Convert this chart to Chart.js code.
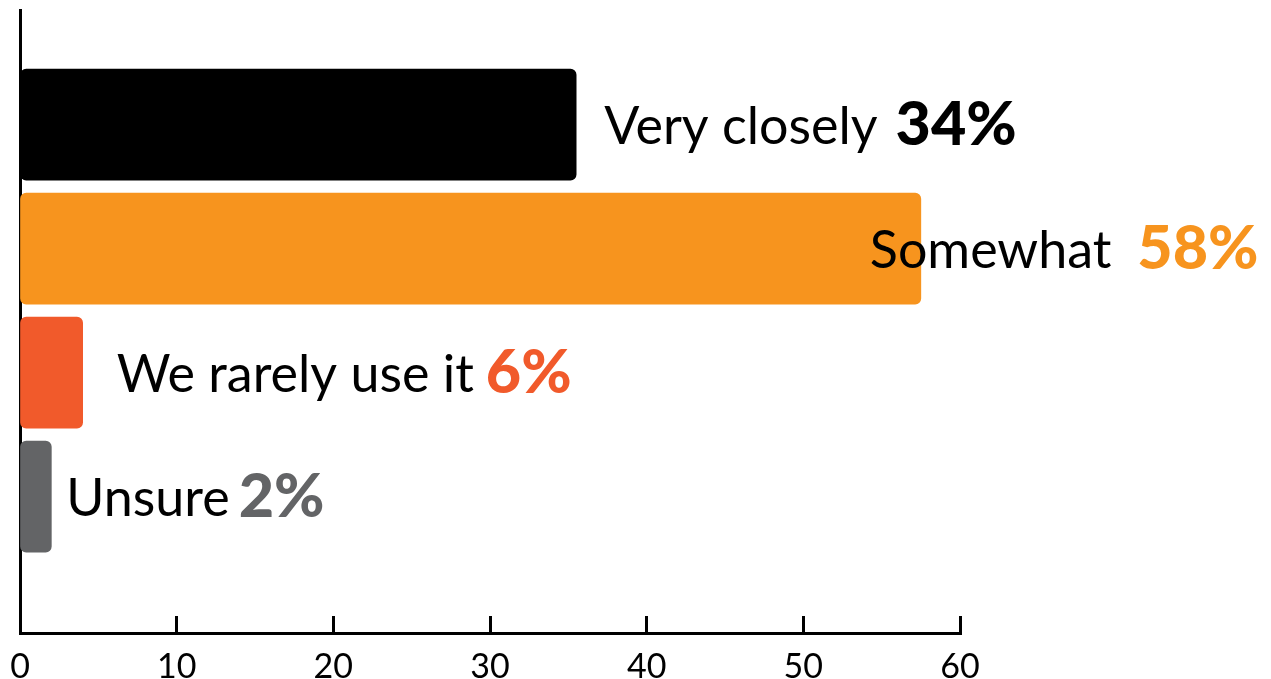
<!DOCTYPE html>
<html>
<head>
<meta charset="utf-8">
<script src="https://cdn.jsdelivr.net/npm/chart.js@4"></script>
<style>
  html, body { margin: 0; padding: 0; background: #ffffff; }
  #wrap { width: 1271px; height: 679px; }
</style>
</head>
<body>
<div id="wrap"><canvas id="chart"></canvas></div>
<script>
// Chart data
const categories = ['Very closely', 'Somewhat', 'We rarely use it', 'Unsure'];
const barValues = [35.5, 57.5, 4, 2];
const percentLabels = ['34%', '58%', '6%', '2%'];
const xTicks = [0, 10, 20, 30, 40, 50, 60];

const barColors = ['#000000', '#F7941E', '#F15A2B', '#636466'];
// horizontal shift of each label from the end of its bar (px)
const labelShift = [28, -51, 34, 15];
const labelGap = [18, 26, 12, 9];

// Draw the category name and percentage next to each bar
const barLabels = {
    id: 'barLabels',
    afterDatasetsDraw(chart) {
        const ctx = chart.ctx;
        const meta = chart.getDatasetMeta(0);
        ctx.save();
        ctx.textBaseline = 'alphabetic';
        meta.data.forEach((bar, i) => {
            const y = bar.y + 19;
            let x = bar.x + labelShift[i];
            ctx.font = '52px Lato';
            ctx.fillStyle = '#000000';
            ctx.fillText(categories[i], x, y);
            x += ctx.measureText(categories[i]).width + labelGap[i];
            ctx.font = '900 61px Lato';
            ctx.fillStyle = barColors[i];
            ctx.fillText(percentLabels[i], x, y + 1);
        });
        ctx.restore();
    }
};

const ctx = document.getElementById('chart').getContext('2d');
new Chart(ctx, {
    type: 'bar',
    data: {
        datasets: [{
            data: categories.map((c, i) => ({ x: barValues[i], y: i })),
            backgroundColor: barColors,
            borderRadius: 6,
            borderSkipped: false,
            barThickness: 111
        }]
    },
    options: {
        indexAxis: 'y',
        responsive: true,
        maintainAspectRatio: false,
        animation: false,
        layout: { padding: { left: 20, right: 311, top: 10, bottom: 0 } },
        plugins: {
            legend: { display: false },
            tooltip: { enabled: false }
        },
        scales: {
            x: {
                type: 'linear',
                min: 0,
                max: 60,
                offset: false,
                afterBuildTicks: (scale) => { scale.ticks = xTicks.map(v => ({ value: v })); },
                afterFit: (scale) => { scale.height = 46; scale.paddingLeft = 0; scale.paddingRight = 0; },
                grid: { drawOnChartArea: false, offset: false, tickLength: -17, tickWidth: 3, tickColor: '#000000' },
                border: { color: '#000000', width: 3 },
                ticks: {
                    padding: 34,
                    color: '#000000',
                    font: { family: 'Lato', size: 34, lineHeight: 1 },
                    maxRotation: 0
                }
            },
            y: {
                type: 'linear',
                reverse: true,
                offset: false,
                min: -0.925,
                max: 4.1,
                afterFit: (scale) => { scale.width = 0; },
                grid: { display: false, drawTicks: false, offset: false },
                border: { color: '#000000', width: 3 },
                ticks: { display: false }
            }
        }
    },
    plugins: [barLabels]
});
</script>
</body>
</html>
